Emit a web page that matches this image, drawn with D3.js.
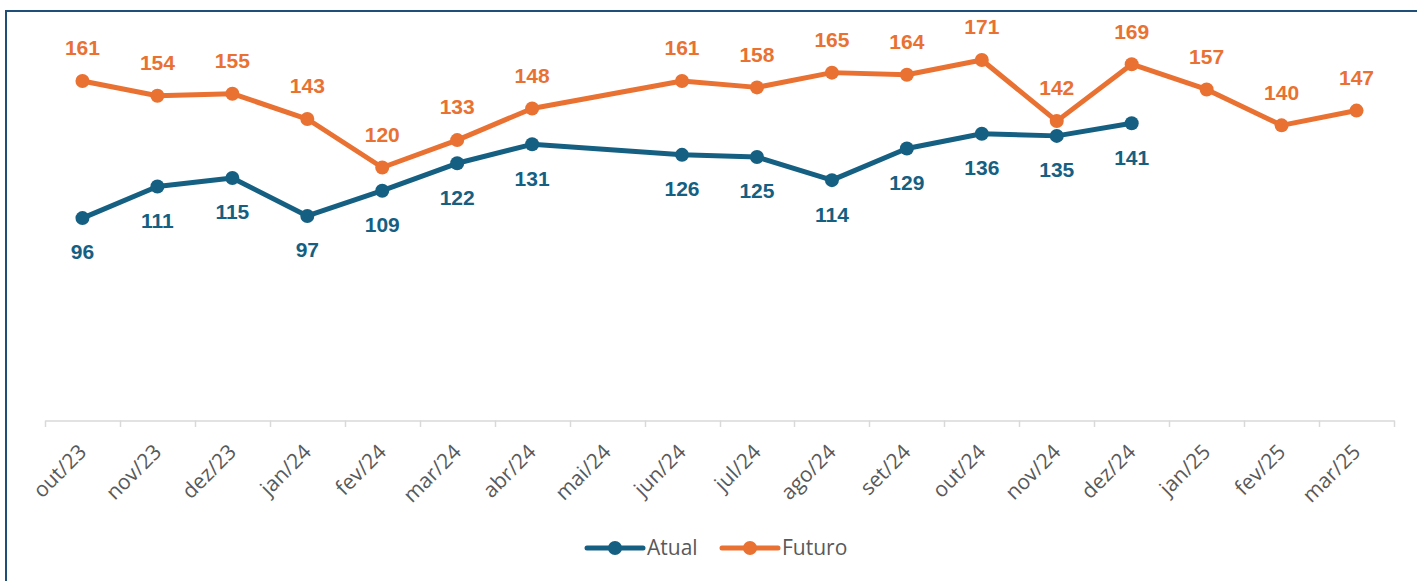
<!DOCTYPE html>
<html>
<head>
<meta charset="utf-8">
<script src="https://cdn.jsdelivr.net/npm/d3@7"></script>
<style>
  body { margin: 0; background: #fff; }
  svg { display: block; font-family: "Open Sans", "Liberation Sans", sans-serif; }
</style>
</head>
<body>
<script>
const months = ["out/23", "nov/23", "dez/23", "jan/24", "fev/24", "mar/24", "abr/24", "mai/24", "jun/24",
                "jul/24", "ago/24", "set/24", "out/24", "nov/24", "dez/24", "jan/25", "fev/25", "mar/25"]
const atual = [96, 111, 115, 97, 109, 122, 131, null, 126, 125, 114, 129, 136, 135, 141, null, null, null]
const futuro = [161, 154, 155, 143, 120, 133, 148, null, 161, 158, 165, 164, 171, 142, 169, 157, 140, 147]
const seriesNames = ["Atual", "Futuro"]
const colors = ["#156082", "#E97132"]

const W = 1417, H = 581

const svg = d3.select("body").append("svg")
    .attr("width", W)
    .attr("height", H)

// chart border (runs off the right/bottom of the picture)
svg.append("rect")
    .attr("x", 6).attr("y", 11)
    .attr("width", W + 20).attr("height", H + 20)
    .attr("fill", "none")
    .attr("stroke", "#1F4E79")
    .attr("stroke-width", 2)

const x = d3.scaleBand()
    .domain(months)
    .range([45, 1394])

// y = 0 sits on the axis line
const y = d3.scaleLinear()
    .domain([0, 180])
    .range([420.5, 41])

// x axis
const axis = svg.append("g")
    .attr("transform", "translate(0,420.5)")
    .call(d3.axisBottom(x).tickSizeInner(0).tickSizeOuter(0).tickFormat(""))
axis.select(".domain").attr("stroke", "#D9D9D9").attr("stroke-width", 1.5)

// tick marks on band edges
svg.append("g").selectAll("line")
    .data(months.concat(["end"]))
    .join("line")
    .attr("x1", (d, i) => Math.round(x.range()[0] + i * x.step()) + 0.5)
    .attr("x2", (d, i) => Math.round(x.range()[0] + i * x.step()) + 0.5)
    .attr("y1", 420.5).attr("y2", 427)
    .attr("stroke", "#D9D9D9")
    .attr("stroke-width", 1.5)

// rotated tick labels
svg.append("g").selectAll("text")
    .data(months)
    .join("text")
    .attr("transform", d => "translate(" + (x(d) + x.bandwidth() / 2) + ",448) rotate(-45)")
    .attr("text-anchor", "end")
    .attr("dy", "0.35em")
    .attr("fill", "#595959")
    .attr("font-size", 21)
    .text(d => d)

const cx = d => x(d) + x.bandwidth() / 2

const line = d3.line()
    .x(d => cx(d.m))
    .y(d => y(d.v))

const allSeries = [atual, futuro]

allSeries.forEach((vals, si) => {
    // line bridges the empty month
    const pts = months.map((m, i) => ({ m: m, v: vals[i] })).filter(d => d.v != null)
    const g = svg.append("g")

    g.append("path")
        .datum(pts)
        .attr("d", line)
        .attr("fill", "none")
        .attr("stroke", colors[si])
        .attr("stroke-width", 5)
        .attr("stroke-linejoin", "round")

    g.selectAll("circle")
        .data(pts)
        .join("circle")
        .attr("cx", d => cx(d.m))
        .attr("cy", d => y(d.v))
        .attr("r", 7)
        .attr("fill", colors[si])

    // labels: Atual below, Futuro above
    g.selectAll("text")
        .data(pts)
        .join("text")
        .attr("x", d => cx(d.m))
        .attr("y", d => y(d.v) + (si === 0 ? 34 : -33))
        .attr("dy", "0.35em")
        .attr("text-anchor", "middle")
        .attr("font-family", "Liberation Sans, Arial, sans-serif")
        .attr("font-weight", "bold")
        .attr("font-size", 21)
        .attr("fill", colors[si])
        .text(d => d.v)
})

// legend
const legend = svg.append("g")
    .selectAll("g")
    .data(seriesNames)
    .join("g")
    .attr("transform", (d, i) => "translate(" + (587 + i * 135) + ",548)")

legend.append("line")
    .attr("x1", 0).attr("x2", 56)
    .attr("stroke", (d, i) => colors[i])
    .attr("stroke-width", 5)
    .attr("stroke-linecap", "round")
legend.append("circle")
    .attr("cx", 28).attr("r", 7)
    .attr("fill", (d, i) => colors[i])
legend.append("text")
    .attr("x", 60)
    .attr("dy", "0.35em")
    .attr("font-size", 21)
    .attr("fill", "#595959")
    .text(d => d)
</script>
</body>
</html>
